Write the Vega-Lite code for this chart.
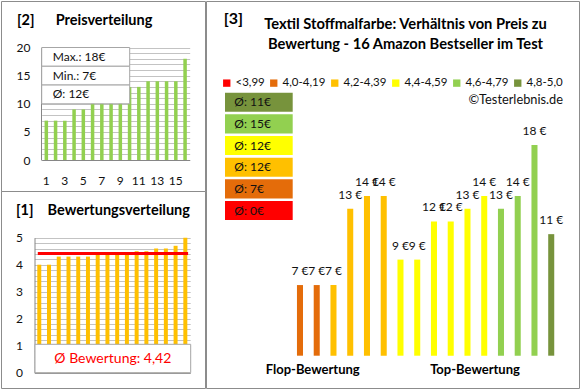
{
  "$schema": "https://vega.github.io/schema/vega-lite/v6.json",
  "padding": {"left": 0, "top": 0, "right": 1, "bottom": 1},
  "background": "white",
  "datasets": {
    "produkte": [
      {"rank": 1, "rating": 4.0, "price": 7, "group": "4,0-4,19"},
      {"rank": 2, "rating": 4.0, "price": 7, "group": "4,0-4,19"},
      {"rank": 3, "rating": 4.3, "price": 7, "group": "4,2-4,39"},
      {"rank": 4, "rating": 4.3, "price": 13, "group": "4,2-4,39"},
      {"rank": 5, "rating": 4.3, "price": 14, "group": "4,2-4,39"},
      {"rank": 6, "rating": 4.3, "price": 14, "group": "4,2-4,39"},
      {"rank": 7, "rating": 4.4, "price": 9, "group": "4,4-4,59"},
      {"rank": 8, "rating": 4.4, "price": 9, "group": "4,4-4,59"},
      {"rank": 9, "rating": 4.4, "price": 12, "group": "4,4-4,59"},
      {"rank": 10, "rating": 4.4, "price": 12, "group": "4,4-4,59"},
      {"rank": 11, "rating": 4.5, "price": 13, "group": "4,4-4,59"},
      {"rank": 12, "rating": 4.5, "price": 14, "group": "4,4-4,59"},
      {"rank": 13, "rating": 4.6, "price": 13, "group": "4,6-4,79"},
      {"rank": 14, "rating": 4.6, "price": 14, "group": "4,6-4,79"},
      {"rank": 15, "rating": 4.7, "price": 18, "group": "4,6-4,79"},
      {"rank": 16, "rating": 5.0, "price": 11, "group": "4,8-5,0"}
    ],
    "preisbox": [
      {"art": "Preis", "stat": "Max.: 18€"},
      {"art": "Preis", "stat": "Min.: 7€"},
      {"art": "Preis", "stat": "Ø: 12€"}
    ],
    "bewbox": [
      {"art": "Bewertung", "text": "Ø Bewertung: 4,42"}
    ],
    "gruppen": [
      {"kat": "Ø", "group": "4,8-5,0", "label": "Ø: 11€"},
      {"kat": "Ø", "group": "4,6-4,79", "label": "Ø: 15€"},
      {"kat": "Ø", "group": "4,4-4,59", "label": "Ø: 12€"},
      {"kat": "Ø", "group": "4,2-4,39", "label": "Ø: 12€"},
      {"kat": "Ø", "group": "4,0-4,19", "label": "Ø: 7€"},
      {"kat": "Ø", "group": "<3,99", "label": "Ø: 0€"}
    ],
    "bereiche": [
      {"bereich": "Flop-Bewertung"},
      {"bereich": "Top-Bewertung"}
    ]
  },
  "config": {
    "font": "Lato",
    "view": {"stroke": "#8c8c8c", "strokeWidth": 1},
    "axis": {"labelFont": "Lato", "labelFontSize": 12, "labelColor": "#111111", "domainColor": "#868686", "gridColor": "#c3c3c3", "labelOverlap": false},
    "title": {"font": "Lato", "fontWeight": "bold", "color": "#000000", "frame": "group", "baseline": "alphabetic"},
    "text": {"font": "Lato", "fontSize": 12, "color": "#111111"},
    "locale": {"number": {"decimal": ",", "thousands": ".", "grouping": [3], "currency": ["", "\u00a0€"]}}
  },
  "spacing": -2,
  "hconcat": [
    {
      "spacing": 0,
      "bounds": "flush",
      "vconcat": [
        {
          "width": 204,
          "height": 190,
          "title": {"text": "[2]\u00a0\u00a0\u00a0\u00a0\u00a0\u00a0Preisverteilung", "anchor": "start", "dx": 16, "offset": -27, "fontSize": 14.5},
          "layer": [
            {
              "data": {"name": "produkte"},
              "transform": [{"window": [{"op": "row_number", "as": "nr"}], "sort": [{"field": "price", "order": "ascending"}, {"field": "rank", "order": "ascending"}]}],
              "mark": {"type": "bar", "color": "#92D050"},
              "encoding": {
                "x": {"field": "nr", "type": "ordinal", "scale": {"range": [40.7, 188.7], "paddingInner": 0.62, "paddingOuter": 0.31},
                  "axis": {"orient": "bottom", "offset": -31, "title": null, "labelAngle": 0, "labelExpr": "datum.value % 2 === 1 ? datum.label : ''", "labelOverlap": false, "ticks": false, "labelPadding": 15, "grid": false}},
                "y": {"field": "price", "type": "quantitative", "scale": {"domain": [0, 20], "range": [159, 46.5], "nice": false},
                  "axis": {"orient": "left", "offset": -40, "title": null, "values": [0,1,2,3,4,5,6,7,8,9,10,11,12,13,14,15,16,17,18,19,20], "format": "d", "labelExpr": "datum.value % 5 === 0 ? datum.label : ''", "labelOverlap": false, "ticks": false, "labelPadding": 11, "grid": true}}
              }
            },
            {
              "data": {"name": "preisbox"},
              "layer": [
                {
                  "mark": {"type": "rect", "fill": "white", "stroke": "#a6a6a6", "strokeWidth": 1},
                  "encoding": {
                    "x": {"field": "art", "type": "nominal", "scale": {"range": [40.7, 128.7], "paddingInner": 0, "paddingOuter": 0}, "axis": null},
                    "y": {"field": "stat", "type": "nominal", "sort": null, "scale": {"range": [46.5, 102.8], "paddingInner": 0, "paddingOuter": 0}, "axis": null}
                  }
                },
                {
                  "mark": {"type": "text", "align": "left", "baseline": "middle", "dx": 11, "fontSize": 12},
                  "encoding": {
                    "x": {"field": "art", "type": "nominal", "bandPosition": 0},
                    "y": {"field": "stat", "type": "nominal", "sort": null, "bandPosition": 0.5},
                    "text": {"field": "stat"}
                  }
                }
              ]
            }
          ],
          "resolve": {"scale": {"x": "independent", "y": "independent"}}
        },
        {
          "width": 204,
          "height": 197,
          "title": {"text": "[1]\u00a0\u00a0\u00a0\u00a0Bewertungsverteilung", "anchor": "start", "dx": 15, "offset": -27, "fontSize": 14.5},
          "layer": [
            {
              "data": {"name": "produkte"},
              "mark": {"type": "bar", "color": "#FFC000"},
              "encoding": {
                "x": {"field": "rank", "type": "ordinal", "scale": {"range": [33.4, 189.2], "paddingInner": 0.59, "paddingOuter": 0.295},
                  "axis": {"orient": "bottom", "offset": -15.3, "title": null, "labels": false, "ticks": false, "grid": false}},
                "y": {"field": "rating", "type": "quantitative", "scale": {"domain": [0, 5], "range": [181.7, 46.7], "nice": false},
                  "axis": {"orient": "left", "offset": -33.5, "title": null, "values": [0,0.2,0.4,0.6,0.8,1,1.2,1.4,1.6,1.8,2,2.2,2.4,2.6,2.8,3,3.2,3.4,3.6,3.8,4,4.2,4.4,4.6,4.8,5], "labelExpr": "abs(datum.value - round(datum.value)) < 0.001 ? '' + round(datum.value) : ''", "labelOverlap": false, "ticks": false, "labelPadding": 12, "grid": true}}
              }
            },
            {
              "data": {"name": "produkte"},
              "mark": {"type": "rule", "color": "#FF0000", "strokeWidth": 3, "strokeCap": "square"},
              "encoding": {
                "x": {"datum": 0, "type": "quantitative", "scale": {"domain": [0, 1], "range": [38.3, 185.6], "nice": false, "zero": false}, "axis": null},
                "x2": {"datum": 1},
                "y": {"aggregate": "mean", "field": "rating", "type": "quantitative", "scale": {"domain": [0, 5], "range": [181.7, 46.7], "nice": false}, "axis": null}
              }
            },
            {
              "data": {"name": "bewbox"},
              "layer": [
                {
                  "mark": {"type": "rect", "fill": "white", "stroke": "#a6a6a6", "strokeWidth": 1},
                  "encoding": {
                    "x": {"field": "art", "type": "nominal", "scale": {"range": [34, 189.7], "paddingInner": 0, "paddingOuter": 0}, "axis": null},
                    "y": {"field": "text", "type": "nominal", "scale": {"range": [153.3, 181.7], "paddingInner": 0, "paddingOuter": 0}, "axis": null}
                  }
                },
                {
                  "mark": {"type": "text", "align": "center", "baseline": "middle", "fontSize": 14, "color": "#FF0000"},
                  "encoding": {
                    "x": {"field": "art", "type": "nominal"},
                    "y": {"field": "text", "type": "nominal"},
                    "text": {"field": "text"}
                  }
                }
              ]
            }
          ],
          "resolve": {"scale": {"x": "independent", "y": "independent"}}
        }
      ]
    },
    {
      "spacing": 0,
      "title": {"text": "[3]", "anchor": "start", "dx": 17.7, "offset": -26, "fontSize": 16},
      "vconcat": [
        {
          "width": 373,
          "height": 387,
          "title": {"text": ["Textil Stoffmalfarbe: Verhältnis von Preis zu", "Bewertung - 16 Amazon Bestseller im Test"], "anchor": "middle", "dx": 13, "offset": -50.5, "fontSize": 14.7, "lineHeight": 20},
          "layer": [
            {
              "layer": [
                {
                  "data": {"name": "produkte"},
                  "layer": [
                    {
                      "mark": {"type": "bar"},
                      "encoding": {
                        "x": {"field": "rank", "type": "ordinal", "scale": {"range": [85.6, 353.6], "paddingInner": 0.64, "paddingOuter": 0.32}, "axis": null},
                        "y": {"field": "price", "type": "quantitative", "scale": {"domain": [1.45, 20], "range": [354.7, 118.6], "nice": false, "zero": false}, "axis": null},
                        "y2": {"datum": 1.45},
                        "color": {"field": "group", "type": "nominal",
                          "scale": {"domain": ["<3,99", "4,0-4,19", "4,2-4,39", "4,4-4,59", "4,6-4,79", "4,8-5,0"], "range": ["#FF0000", "#E46C0A", "#FFC000", "#FFFF00", "#92D050", "#77933C"]},
                          "legend": {"orient": "none", "legendX": 220, "legendY": 76, "direction": "horizontal", "columns": 6, "title": "©Testerlebnis.de", "titleOrient": "bottom", "titleAnchor": "end", "titleFontWeight": "normal", "titleFontSize": 12.8, "titleColor": "#111111", "titleFont": "Lato", "titlePadding": 5, "labelFont": "Lato", "labelFontSize": 11.5, "labelColor": "#111111", "symbolType": "square", "symbolSize": 54, "symbolStrokeWidth": 0, "labelOffset": 3, "columnPadding": 3, "padding": 0}}
                      }
                    },
                    {
                      "mark": {"type": "text", "align": "center", "baseline": "alphabetic", "dy": -10, "fontSize": 12},
                      "encoding": {
                        "x": {"field": "rank", "type": "ordinal"},
                        "y": {"field": "price", "type": "quantitative"},
                        "text": {"field": "price", "type": "quantitative", "format": "$d"}
                      }
                    }
                  ]
                },
                {
                  "data": {"name": "bereiche"},
                  "mark": {"type": "text", "align": "center", "baseline": "middle", "fontSize": 13, "fontWeight": "bold", "color": "#000000"},
                  "encoding": {
                    "x": {"field": "bereich", "type": "nominal", "scale": {"type": "point", "range": [106.7, 269], "padding": 0}, "axis": null},
                    "y": {"datum": 0.3, "type": "quantitative"},
                    "text": {"field": "bereich"}
                  }
                }
              ],
              "resolve": {"scale": {"x": "independent"}}
            },
            {
              "data": {"name": "gruppen"},
              "layer": [
                {
                  "mark": {"type": "rect"},
                  "encoding": {
                    "x": {"field": "kat", "type": "nominal", "scale": {"range": [19, 86.7], "paddingInner": 0, "paddingOuter": 0}, "axis": null},
                    "y": {"field": "group", "type": "nominal", "sort": null, "scale": {"range": [91.7, 219.1], "paddingInner": 0.12, "paddingOuter": 0}, "axis": null},
                    "color": {"field": "group", "type": "nominal"}
                  }
                },
                {
                  "mark": {"type": "text", "align": "left", "baseline": "middle", "dx": 9.3, "fontSize": 12},
                  "encoding": {
                    "x": {"field": "kat", "type": "nominal", "bandPosition": 0},
                    "y": {"field": "group", "type": "nominal", "sort": null, "bandPosition": 0.5},
                    "text": {"field": "label"}
                  }
                }
              ]
            }
          ],
          "resolve": {"scale": {"x": "independent", "y": "independent"}}
        }
      ]
    }
  ]
}
